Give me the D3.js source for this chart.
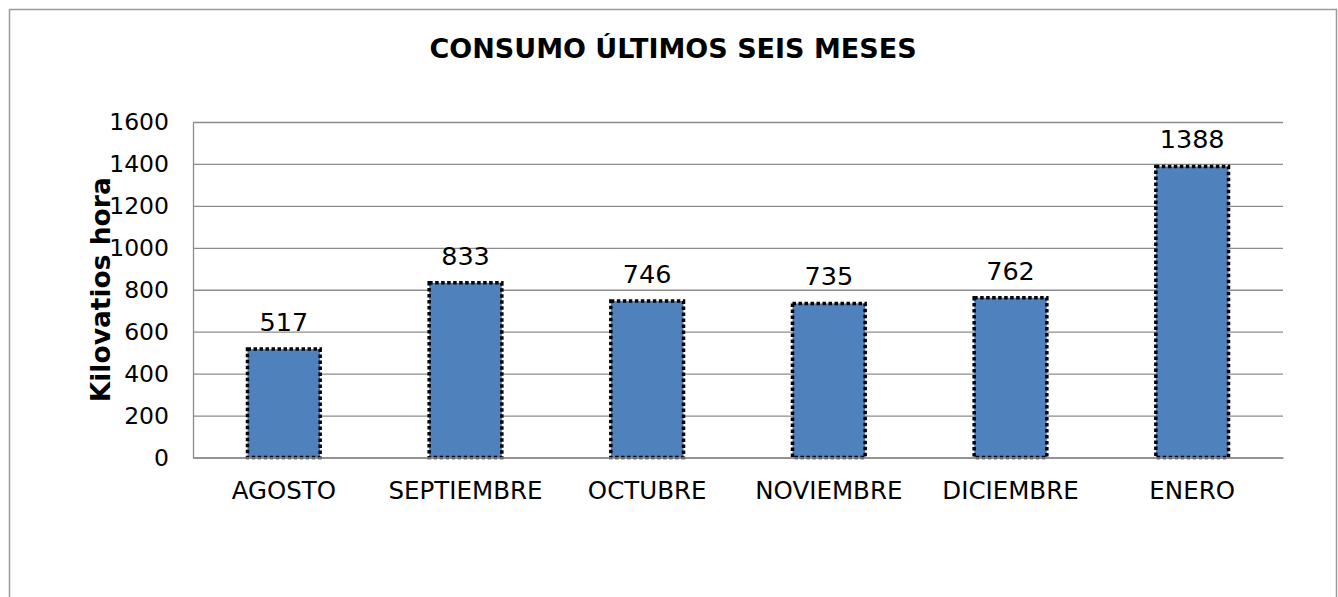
<!DOCTYPE html>
<html>
<head>
<meta charset="utf-8">
<script src="https://cdn.jsdelivr.net/npm/d3@7"></script>
<style>
  body { margin: 0; background: #fff; }
  svg { display: block; font-family: 'DejaVu Sans', Verdana, sans-serif; }
</style>
</head>
<body>
<svg id="svg" width="1338" height="597"></svg>
<script>
const months = ['AGOSTO', 'SEPTIEMBRE', 'OCTUBRE', 'NOVIEMBRE', 'DICIEMBRE', 'ENERO']
const consumo = [517, 833, 746, 735, 762, 1388]
const yTicks = [0, 200, 400, 600, 800, 1000, 1200, 1400, 1600]
const chartTitle = 'CONSUMO ÚLTIMOS SEIS MESES'
const yTitle = 'Kilovatios hora'

const plotLeft = 193
const plotRight = 1283
const plotTop = 122
const plotBottom = 457.5

const svg = d3.select('#svg')

// chart frame
svg.append('rect')
  .attr('x', 9.5)
  .attr('y', 9.5)
  .attr('width', 1327)
  .attr('height', 620)
  .attr('fill', 'none')
  .attr('stroke', '#9a9a9a')
  .attr('stroke-width', 1.5)

const x = d3.scaleBand()
  .domain(months)
  .range([plotLeft, plotRight])
  .paddingInner(0.6)
  .paddingOuter(0.3)

const y = d3.scaleLinear()
  .domain([0, 1600])
  .range([plotBottom, plotTop])

// gridlines
svg.append('g')
  .attr('transform', `translate(${plotLeft}, 0)`)
  .call(d3.axisLeft(y).tickValues(yTicks).tickSize(-(plotRight - plotLeft)).tickFormat(''))
  .call(g => g.select('.domain').remove())
  .call(g => g.selectAll('line').attr('stroke', '#8c8c8c').attr('stroke-width', 1.3))

// y axis
svg.append('g')
  .attr('transform', `translate(${plotLeft}, 0)`)
  .call(d3.axisLeft(y).tickValues(yTicks).tickSize(0).tickPadding(24).tickFormat(d3.format('d')))
  .call(g => g.select('.domain').attr('stroke', '#8c8c8c').attr('stroke-width', 1.3))
  .call(g => g.selectAll('text')
    .attr('font-family', "'DejaVu Sans', Verdana, sans-serif")
    .attr('font-size', 23.5)
    .attr('fill', '#000'))

// bars
svg.append('g')
  .selectAll('rect')
  .data(consumo)
  .join('rect')
  .attr('x', (d, i) => x(months[i]))
  .attr('y', d => y(d))
  .attr('width', x.bandwidth())
  .attr('height', d => y(0) - y(d))
  .attr('fill', '#4f81bd')
  .attr('stroke', '#000')
  .attr('stroke-width', 3.5)
  .attr('stroke-dasharray', '3.5,2.5')

// x axis
svg.append('g')
  .attr('transform', `translate(0, ${plotBottom})`)
  .call(d3.axisBottom(x).tickSize(0).tickPadding(24))
  .call(g => g.select('.domain').attr('stroke', '#8c8c8c').attr('stroke-width', 1.3))
  .call(g => g.selectAll('text')
    .attr('font-family', "'DejaVu Sans', Verdana, sans-serif")
    .attr('font-size', 24.5)
    .attr('fill', '#000'))

// data labels
svg.append('g')
  .selectAll('text')
  .data(consumo)
  .join('text')
  .attr('x', (d, i) => x(months[i]) + x.bandwidth() / 2)
  .attr('y', d => y(d) - 18)
  .attr('text-anchor', 'middle')
  .attr('font-size', 25.5)
  .attr('fill', '#000')
  .text(d => d)

// titles
svg.append('text')
  .attr('x', 673)
  .attr('y', 58)
  .attr('text-anchor', 'middle')
  .attr('font-size', 27)
  .attr('font-weight', 'bold')
  .text(chartTitle)

svg.append('text')
  .attr('transform', `translate(110, ${(plotTop + plotBottom) / 2}) rotate(-90)`)
  .attr('text-anchor', 'middle')
  .attr('font-size', 26.5)
  .attr('font-weight', 'bold')
  .text(yTitle)
</script>
</body>
</html>
